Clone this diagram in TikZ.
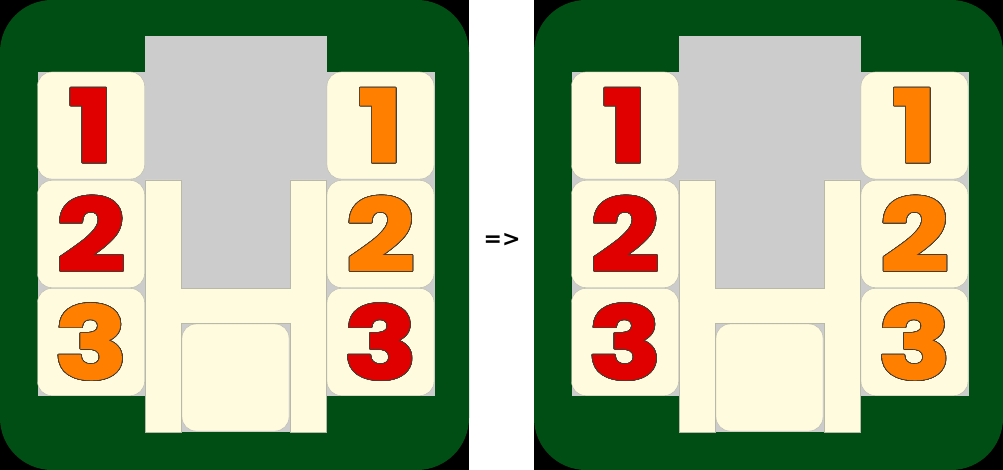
\documentclass[tikz,border=0pt]{standalone}
\usepackage{fontspec}
\usepackage{contour}
\newfontfamily\digitfont{Poppins}[BoldFeatures={FakeBold=2}]
\newfontfamily\signfont{DejaVu Sans}
\definecolor{boardgreen}{RGB}{0,78,20}
\definecolor{slotgray}{RGB}{204,204,204}
\definecolor{tilecream}{RGB}{254,251,223}
\definecolor{tileline}{RGB}{185,185,170}
\definecolor{digitred}{RGB}{224,0,0}
\definecolor{digitorange}{RGB}{255,127,0}
\definecolor{digitline}{RGB}{70,60,50}
\contourlength{0.7pt}
\contournumber{32}
\newcommand{\numeral}[2]{\scalebox{1.2}[1]{\textcolor{#1}{\contour{digitline}{#2}}}}
\tikzset{
  tile/.style={draw=tileline, fill=tilecream, rounded corners=14, inner sep=0pt,
    minimum width=107, minimum height=107,
    font=\digitfont\bfseries\fontsize{100}{100}\selectfont},
  hbar/.style={draw=tileline, fill=tilecream, line width=0.5pt},
}
\begin{document}
\begin{tikzpicture}[x=1pt,y=-1pt]
\useasboundingbox (0,0) rectangle (1003,470);
\fill[white] (0,0) rectangle (1003,470);

% start position
\begin{scope}
\fill[black] (0,0) rectangle (469,470);
\fill[boardgreen, rounded corners=52] (0,0) rectangle (469,470);
\fill[slotgray] (38,72) rectangle (435,396);
\fill[slotgray] (145,36) rectangle (327,72);
\fill[slotgray] (181,396) rectangle (290,432);
\draw[hbar] (145,180) -- (181,180) -- (181,288) -- (290,288) -- (290,180) -- (326,180)
  -- (326,432) -- (290,432) -- (290,323) -- (181,323) -- (181,432) -- (145,432) -- cycle;
\node[tile] (aS) at (235.5,377.5) {};
\node[tile] (aL1) at (91,125.5) {\numeral{digitred}{1}};
\node[tile] (aL2) at (91,234) {\numeral{digitred}{2}};
\node[tile] (aL3) at (91,342) {\numeral{digitorange}{3}};
\node[tile] (aR1) at (380.5,125.5) {\numeral{digitorange}{1}};
\node[tile] (aR2) at (380.5,234) {\numeral{digitorange}{2}};
\node[tile] (aR3) at (380.5,342) {\numeral{digitred}{3}};
\end{scope}

\node[font=\signfont\bfseries\fontsize{22}{22}\selectfont] (goes) at (502,240) {=>};

% goal position
\begin{scope}[xshift=534pt]
\fill[black] (0,0) rectangle (469,470);
\fill[boardgreen, rounded corners=52] (0,0) rectangle (469,470);
\fill[slotgray] (38,72) rectangle (435,396);
\fill[slotgray] (145,36) rectangle (327,72);
\fill[slotgray] (181,396) rectangle (290,432);
\draw[hbar] (145,180) -- (181,180) -- (181,288) -- (290,288) -- (290,180) -- (326,180)
  -- (326,432) -- (290,432) -- (290,323) -- (181,323) -- (181,432) -- (145,432) -- cycle;
\node[tile] (bS) at (235.5,377.5) {};
\node[tile] (bL1) at (91,125.5) {\numeral{digitred}{1}};
\node[tile] (bL2) at (91,234) {\numeral{digitred}{2}};
\node[tile] (bL3) at (91,342) {\numeral{digitred}{3}};
\node[tile] (bR1) at (380.5,125.5) {\numeral{digitorange}{1}};
\node[tile] (bR2) at (380.5,234) {\numeral{digitorange}{2}};
\node[tile] (bR3) at (380.5,342) {\numeral{digitorange}{3}};
\end{scope}
\end{tikzpicture}
\end{document}
